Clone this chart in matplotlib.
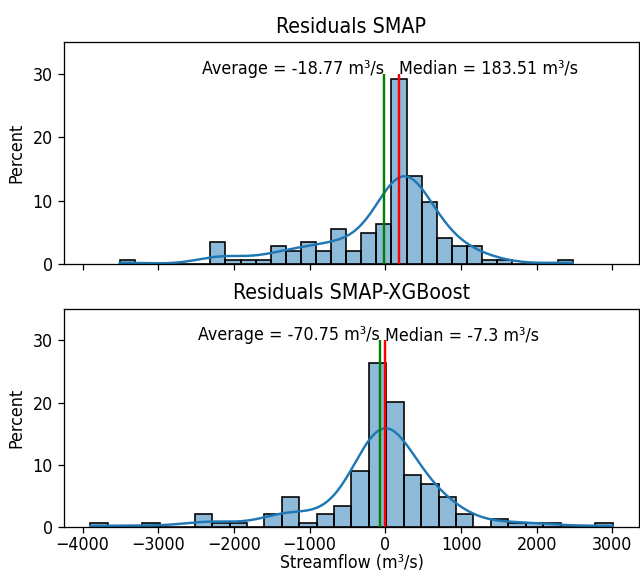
import numpy as np
import matplotlib
matplotlib.use("Agg")
import matplotlib.pyplot as plt

# ---------------- data ----------------
titles = ["Residuals SMAP", "Residuals SMAP-XGBoost"]

# histogram counts (30 bins each, N = 144)
smap_counts = [1, 0, 0, 0, 0, 0, 5, 1, 1, 1, 4, 3, 5, 3, 8, 3, 7, 9, 42, 20,
               14, 6, 4, 4, 1, 1, 0, 0, 0, 1]
smap_range = (-3509.0, 2474.0)
smap_mean = -18.77
smap_median = 183.51

xgb_counts = [1, 0, 0, 1, 0, 0, 3, 1, 1, 0, 3, 7, 1, 3, 5, 13, 38, 29, 12, 10,
              7, 3, 0, 2, 1, 1, 1, 0, 0, 1]
xgb_range = (-3900.0, 3005.0)
xgb_mean = -70.75
xgb_median = -7.3

xticks = [-4000, -3000, -2000, -1000, 0, 1000, 2000, 3000]
yticks = [0, 10, 20, 30]

panels = [
    (titles[0], smap_counts, smap_range, smap_mean, smap_median),
    (titles[1], xgb_counts, xgb_range, xgb_mean, xgb_median),
]

plt.rcParams["font.size"] = 11
plt.rcParams["font.stretch"] = "condensed"

# ---------------- figure ----------------
DPI = 640 / 5.5
fig = plt.figure(figsize=(5.5, 573 / DPI), dpi=DPI)
ax1 = fig.add_axes([0.100, 0.5393, 0.8984, 0.3869])
ax2 = fig.add_axes([0.100, 0.0800, 0.8984, 0.3807], sharex=ax1)
axes = [ax1, ax2]

blue = "#1f77b4"

for ax, (title, counts, rng, mean, median) in zip(axes, panels):
    counts = np.asarray(counts, dtype=float)
    n = counts.sum()
    edges = np.linspace(rng[0], rng[1], len(counts) + 1)
    width = edges[1] - edges[0]
    pct = counts / n * 100
    ax.bar(edges[:-1], pct, width=width, align="edge",
           color=blue, alpha=0.5, edgecolor="none", linewidth=0)
    ax.bar(edges[:-1], pct, width=width, align="edge",
           fill=False, edgecolor="black", linewidth=1.0)

    # Gaussian KDE (Scott's rule) from the binned values
    centers = (edges[:-1] + edges[1:]) / 2
    w = counts / n
    mu = np.sum(w * centers)
    sd = np.sqrt(np.sum(w * (centers - mu) ** 2))
    bw = sd * n ** (-1 / 5)
    xs = np.linspace(rng[0], rng[1], 400)
    dens = np.sum(w[None, :] * np.exp(-0.5 * ((xs[:, None] - centers[None, :]) / bw) ** 2),
                  axis=1) / (bw * np.sqrt(2 * np.pi))
    ax.plot(xs, dens * width * 100, color=blue, linewidth=1.5)

    ax.vlines(mean, 0, 30, color="green", linewidth=1.5)
    ax.vlines(median, 0, 30, color="red", linewidth=1.5)
    ax.text(mean, 30, f"Average = {mean} m\u00b3/s", ha="right")
    ax.text(median, 30, f"Median = {median} m\u00b3/s", ha="left")

    ax.set_ylim(0, 35)
    ax.set_yticks(yticks)
    ax.set_ylabel("Percent")
    ax.set_title(title)

ax2.set_xticks(xticks)
ax2.set_xticklabels([f"\u2212{abs(t)}" if t < 0 else str(t) for t in xticks])
ax2.tick_params(axis="x", pad=2)
ax1.tick_params(labelbottom=False)
ax2.set_xlabel("Streamflow (m\u00b3/s)", labelpad=0)

fig.savefig("out.png", dpi=DPI)
